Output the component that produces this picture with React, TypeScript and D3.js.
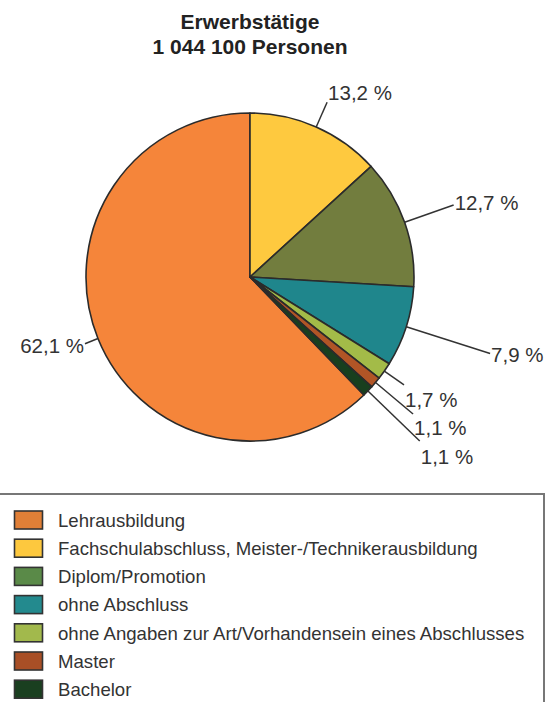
import React from "react";
import * as d3 from "d3";

// data (legend order)
const categories = [
  "Lehrausbildung",
  "Fachschulabschluss, Meister-/Technikerausbildung",
  "Diplom/Promotion",
  "ohne Abschluss",
  "ohne Angaben zur Art/Vorhandensein eines Abschlusses",
  "Master",
  "Bachelor",
];
const shares = [62.1, 13.2, 12.7, 7.9, 1.7, 1.1, 1.1];
const valueLabels = ["62,1 %", "13,2 %", "12,7 %", "7,9 %", "1,7 %", "1,1 %", "1,1 %"];
const pieColors = ["#F5853A", "#FEC93F", "#727D3E", "#1F868C", "#A3BB48", "#B15526", "#183F1E"];
const legendColors = ["#E07F37", "#FDC83E", "#5A8A48", "#238A8E", "#A2B94C", "#A84F26", "#1A3F20"];
const titleLines = ["Erwerbstätige", "1 044 100 Personen"];

const W = 545;
const H = 702;
const cx = 250;
const cy = 277;
const R = 164;
const FONT = "'Liberation Sans', Arial, sans-serif";

// leader line length and label vertical shift, per category
const leaderLen = [14, 27, 52, 88, 24, 49, 72];
const labelDy = [2, -10, -2, 1, 15, 14, 16];

type Row = { name: string; value: number; label: string; idx: number };

const rows: Row[] = categories.map((name, i) => ({ name, value: shares[i], label: valueLabels[i], idx: i }));

const App = () => {
  // Lehrausbildung is drawn last, everything else clockwise from 12 o'clock
  const pie = d3
    .pie<Row>()
    .value((d) => d.value)
    .sort((a, b) => (a.idx === 0 ? 99 : a.idx) - (b.idx === 0 ? 99 : b.idx));
  const arcs = pie(rows);
  const arc = d3.arc<d3.PieArcDatum<Row>>().innerRadius(0).outerRadius(R);

  const legendTop = 494;
  const rowStep = 28.2;

  return (
    <svg width={W} height={H} style={{ position: "absolute", left: 0, top: 0, background: "#fff" }} fontFamily={FONT}>
      <g textAnchor="middle" fontWeight="bold" fontSize={21} fill="#222">
        {titleLines.map((t, i) => (
          <text key={i} x={cx} y={29 + i * 25}>
            {t}
          </text>
        ))}
      </g>

      <g transform={`translate(${cx},${cy})`}>
        {arcs.map((a, i) => (
          <path key={i} d={arc(a) ?? ""} fill={pieColors[a.data.idx]} stroke="#2b2b2b" strokeWidth={1.6} strokeLinejoin="round" />
        ))}
        {arcs.map((a, i) => {
          const mid = (a.startAngle + a.endAngle) / 2;
          const k = a.data.idx;
          const sx = Math.sin(mid) * R;
          const sy = -Math.cos(mid) * R;
          const ex = Math.sin(mid) * (R + leaderLen[k]);
          const ey = -Math.cos(mid) * (R + leaderLen[k]);
          const right = Math.sin(mid) >= 0;
          return (
            <g key={"l" + i}>
              <line x1={sx} y1={sy} x2={ex} y2={ey} stroke="#333" strokeWidth={1.5} />
              <text
                x={ex + (right ? 1 : -1)}
                y={ey + labelDy[k]}
                dy="0.36em"
                textAnchor={right ? "start" : "end"}
                fontSize={20.5}
                fill="#333"
              >
                {a.data.label}
              </text>
            </g>
          );
        })}
      </g>

      <rect x={-2} y={legendTop} width={546} height={H} fill="none" stroke="#777" strokeWidth={2} />
      {rows.map((r, i) => (
        <g key={"lg" + i} transform={`translate(0,${legendTop + 17 + i * rowStep})`}>
          <rect x={14.5} y={0} width={28} height={18} fill={legendColors[i]} stroke="#333" strokeWidth={1.6} />
          <text x={58} y={9} dy="0.36em" fontSize={18.6} fill="#333">
            {r.name}
          </text>
        </g>
      ))}
    </svg>
  );
};

export default App;
